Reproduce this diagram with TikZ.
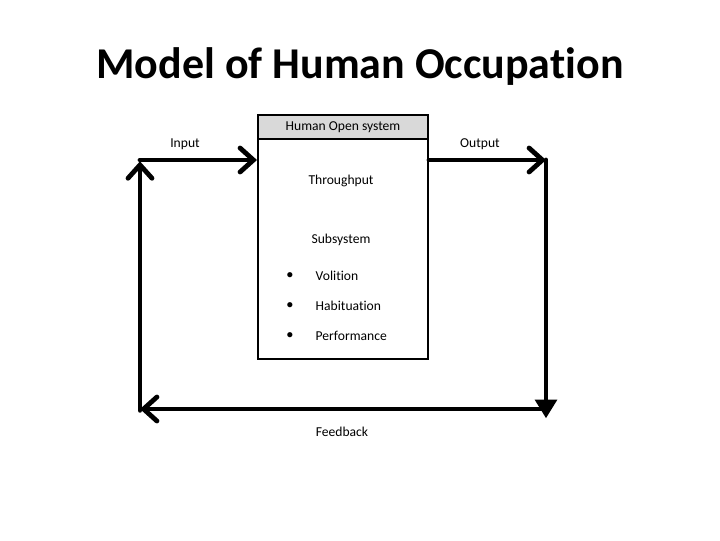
\documentclass[tikz,border=0pt]{standalone}
\usepackage{fontspec}
\setmainfont[Ligatures=NoCommon]{Carlito}
\usetikzlibrary{arrows.meta, positioning}
\tikzset{
x=0.75pt, y=-0.75pt, % one unit is one pixel of the slide
flow/.style={line width=3.6pt, line cap=round, line join=miter}, % thick connectors of the loop
barb/.style={-{Straight Barb[length=10pt,width=18pt,line cap=round]}}, % open arrow head
tri/.style={-{Triangle[length=14pt,width=16pt]}}, % filled arrow head
label/.style={font=\fontsize{10.2}{12}\selectfont}, % small text
item/.style={label, anchor=west}, % list entries
}
\begin{document}
\begin{tikzpicture}
\useasboundingbox (0,0) rectangle (720,540);
% title
\node[font=\fontsize{33}{40}\selectfont\bfseries] (title) at (360,67) {Model of Human Occupation};
% the open system
\node[draw, line width=1.5pt, minimum width=127.5pt, minimum height=183pt, anchor=north west] (box) at (257,114) {};
\node[draw, line width=1.5pt, fill=gray!30, minimum width=127.5pt, minimum height=18pt, anchor=north west, label] (head) at (257,114) {Human Open system};
\node[label] (through) at (341,181) {Throughput};
\node[label] (sub) at (341,240) {Subsystem};
\node[item] (vol) at (311,276) {Volition};
\node[item] (hab) at (311,306) {Habituation};
\node[item] (perf) at (311,336) {Performance};
\foreach \n in {vol, hab, perf}
  \node[label] at (\n.west -| 290,0) {$\bullet$};
% corners of the loop
\coordinate (inL) at (140,160);
\coordinate (outR) at (546,160);
\coordinate (botR) at (546,409);
\coordinate (botL) at (140,409);
\node[label] (in) at (185,144) {Input};
\node[label] (out) at (480,144) {Output};
\node[label] (fb) at (342,432) {Feedback};
% connectors
\draw[flow, barb] (inL) -- (inL -| box.west);
\draw[flow, barb] (outR -| box.east) -- (outR);
\draw[flow, tri] (outR) -- ([yshift=-7pt]botR);
\draw[flow, barb] (botR) -- (botL);
\draw[flow, barb] ([yshift=-1pt]botL) -- ([yshift=-1pt]inL);
\end{tikzpicture}
\end{document}
